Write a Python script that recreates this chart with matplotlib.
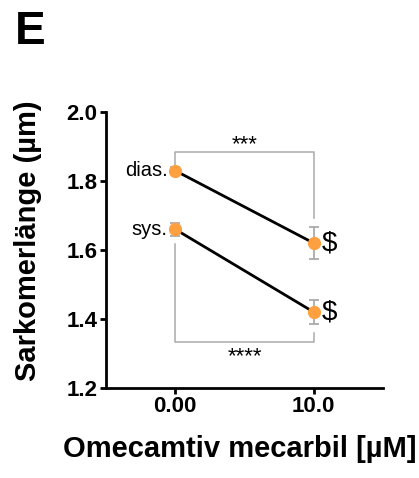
import matplotlib
matplotlib.use("Agg")
import matplotlib.pyplot as plt

plt.rcParams['font.family'] = ['Liberation Sans', 'DejaVu Sans']

# Data
doses = [0.0, 10.0]
dose_labels = ["0.00", "10.0"]
dias_mean = [1.83, 1.62]
dias_err = [0.010, 0.046]
sys_mean = [1.66, 1.42]
sys_err = [0.018, 0.035]
yticks = [1.2, 1.4, 1.6, 1.8, 2.0]

orange = "#FFA040"
gray = "#AAAAAA"

fig = plt.figure(figsize=(4.19, 4.78), dpi=100)
ax = fig.add_axes([106/419, 1-388/478, (383-106)/419, (388-112)/478])

for m, e in [(dias_mean, dias_err), (sys_mean, sys_err)]:
    ax.errorbar(doses, m, yerr=e, fmt='none', ecolor=gray, elinewidth=1.3,
                capsize=3.6, capthick=1.3, zorder=2)
    ax.plot(doses, m, color='black', lw=2.0, zorder=3)
    ax.plot(doses, m, 'o', color=orange, ms=8.5, mec=orange, zorder=4)

# brackets
ax.plot([0, 0, 10, 10], [1.84, 1.884, 1.884, 1.693], color=gray, lw=1.1, zorder=1)
ax.plot([0, 0, 10, 10], [1.617, 1.333, 1.333, 1.359], color=gray, lw=1.1, zorder=1)
ax.text(5, 1.874, "***", ha='center', va='bottom', fontsize=16)
ax.text(5, 1.322, "****", ha='center', va='top', fontsize=16)

ax.text(-0.55, dias_mean[0], "dias.", ha='right', va='center', fontsize=14.5)
ax.text(-0.55, sys_mean[0], "sys.", ha='right', va='center', fontsize=14.5)
ax.text(10.6, dias_mean[1], "$", ha='left', va='center', fontsize=20)
ax.text(10.6, sys_mean[1], "$", ha='left', va='center', fontsize=20)

ax.set_xlim(-5, 15)
ax.set_ylim(1.2, 2.0)
ax.set_xticks(doses)
ax.set_xticklabels(dose_labels)
ax.set_yticks(yticks)
ax.set_yticklabels([f"{v:.1f}" for v in yticks])
for s in ['top', 'right']:
    ax.spines[s].set_visible(False)
for s in ['left', 'bottom']:
    ax.spines[s].set_linewidth(2.0)
ax.tick_params(width=2.0, length=4, labelsize=16, pad=2)
for lab in ax.get_xticklabels() + ax.get_yticklabels():
    lab.set_fontweight('bold')

fig.text(28/419, 1-241/478, "Sarkomerlänge (µm)", rotation=90, ha='center', va='center',
         fontsize=21, fontweight='bold')
fig.text(240/419, 1-449/478, "Omecamtiv mecarbil [µM]", ha='center', va='center',
         fontsize=21, fontweight='bold')
fig.text(15/419, 1-10/478, "E", ha='left', va='top', fontsize=33, fontweight='bold')

fig.savefig("out.png", dpi=100)
